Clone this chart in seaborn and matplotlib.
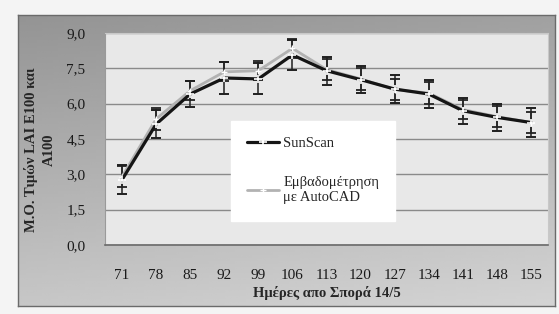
import numpy as np
import pandas as pd
import matplotlib
matplotlib.use('agg')
import matplotlib.pyplot as plt
import seaborn as sns

# data
days = [71, 78, 85, 92, 99, 106, 113, 120, 127, 134, 141, 148, 155]
sunscan = [2.77, 5.13, 6.41, 7.09, 7.05, 8.07, 7.40, 7.02, 6.62, 6.41, 5.70, 5.42, 5.20]
sunscan_err = [0.62, 0.6, 0.55, 0.66, 0.66, 0.62, 0.6, 0.58, 0.6, 0.6, 0.55, 0.57, 0.6]
autocad = [2.9, 5.35, 6.55, 7.35, 7.4, 8.35, 7.45, 7.05, 6.6, 6.45, 5.75, 5.45, 5.2]
autocad_err = [0.45, 0.45, 0.4, 0.4, 0.4, 0.4, 0.45, 0.45, 0.45, 0.45, 0.4, 0.45, 0.45]
yticks = [0.0, 1.5, 3.0, 4.5, 6.0, 7.5, 9.0]

lab_sun = "SunScan"
lab_cad = "Εμβαδομέτρηση\nμε AutoCAD"

df_sun = pd.DataFrame({"pos": range(len(days)), "val": sunscan})
df_cad = pd.DataFrame({"pos": range(len(days)), "val": autocad})

sns.set_style("white")
plt.rcParams['font.family'] = ['Liberation Serif', 'DejaVu Serif']

fig = plt.figure(figsize=(5.59, 3.14), dpi=100)
fig.patch.set_facecolor('#f4f4f4')

# gray frame with a soft gradient (darker at the top)
bg = fig.add_axes([18 / 559, 1 - 306 / 314, 537 / 559, 291 / 314], zorder=0)
gy, gx = np.mgrid[0:1:100j, 0:1:100j]
grad = 0.58 + 0.20 * gy + 0.05 * gx
bg.imshow(grad, cmap='gray', vmin=0, vmax=1, aspect='auto', extent=[0, 1, 1, 0])
bg.set_xticks([])
bg.set_yticks([])
for s in bg.spines.values():
    s.set_color('#6a6a6a')
    s.set_linewidth(1.0)

ax = fig.add_axes([105 / 559, 1 - 245 / 314, 443 / 559, 212 / 314], zorder=1)
ax.set_facecolor('#e8e8e8')

ax.errorbar(range(len(days)), autocad, yerr=autocad_err, fmt='none',
            ecolor='#303030', elinewidth=1.1, capsize=3.5, capthick=1.4, zorder=3)
ax.errorbar(range(len(days)), sunscan, yerr=sunscan_err, fmt='none',
            ecolor='#202020', elinewidth=1.1, capsize=3.5, capthick=1.4, zorder=3)

sns.lineplot(data=df_sun, x="pos", y="val", color='#151515', marker='+',
             markersize=6, markeredgewidth=1.2, linewidth=2.3,
             label=lab_sun, ax=ax, zorder=5)
sns.lineplot(data=df_cad, x="pos", y="val", color='#b2b2b2', marker='+',
             markersize=5, markeredgewidth=1.0, linewidth=2.0,
             label=lab_cad, ax=ax, zorder=4)

ax.set_xlim(-0.5, len(days) - 0.5)
ax.set_ylim(0, 9.0)
ax.set_yticks(yticks)
ax.set_yticklabels([("%.1f" % v).replace('.', ',') for v in yticks], fontsize=11, color='#1a1a1a')
ax.set_xticks(range(len(days)))
ax.set_xticklabels([str(d) for d in days], fontsize=11, color='#1a1a1a')
ax.set_xticks(np.arange(-0.5, len(days), 1), minor=True)
ax.tick_params(axis='x', which='major', length=0, pad=17)
ax.tick_params(axis='x', which='minor', length=4, color='#707070', direction='out')
ax.tick_params(axis='y', length=8, color='#808080', direction='out', pad=6)
ax.yaxis.grid(True, color='#8a8a8a', linewidth=1.0)
ax.set_axisbelow(True)
for s in ['top', 'right']:
    ax.spines[s].set_color('#c8c8c8')
ax.spines['left'].set_color('#9a9a9a')
ax.spines['bottom'].set_color('#6a6a6a')
ax.spines['bottom'].set_linewidth(1.2)

ax.set_xlabel("Ημέρες απο Σπορά 14/5", fontsize=10.5, fontweight='bold', labelpad=3)
ax.set_ylabel("")
fig.text(40 / 559, 1 - 150 / 314, "Μ.Ο. Τιμών LAI E100 και\nA100", rotation=90,
         ha='center', va='center', multialignment='center',
         fontsize=10.5, fontweight='bold', linespacing=1.45)

leg = ax.legend(loc='upper left', bbox_to_anchor=(0.284, 0.585), fontsize=10.5,
                frameon=True, fancybox=False, framealpha=1, edgecolor='white',
                handlelength=2.2, labelspacing=1.8, borderpad=1.1, handletextpad=0.3,
                borderaxespad=0)
leg.get_frame().set_facecolor('white')

fig.savefig('out.png', dpi=100, facecolor=fig.get_facecolor())
